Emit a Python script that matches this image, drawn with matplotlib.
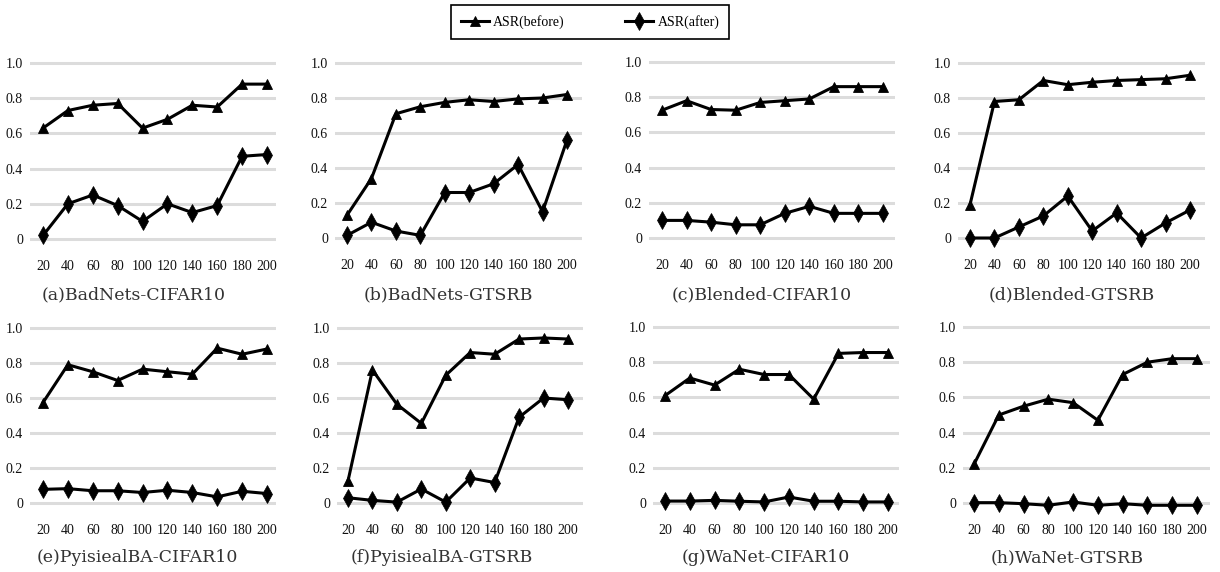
import matplotlib
matplotlib.use("Agg")
import matplotlib.pyplot as plt
from matplotlib.lines import Line2D

epochs = ["20", "40", "60", "80", "100", "120", "140", "160", "180", "200"]
ytick_vals = [0, 0.2, 0.4, 0.6, 0.8, 1.0]
ytick_labels = ["0", "0.2", "0.4", "0.6", "0.8", "1.0"]

titles = ["(a)BadNets-CIFAR10", "(b)BadNets-GTSRB", "(c)Blended-CIFAR10", "(d)Blended-GTSRB",
          "(e)PyisiealBA-CIFAR10", "(f)PyisiealBA-GTSRB", "(g)WaNet-CIFAR10", "(h)WaNet-GTSRB"]

before_a = [0.63, 0.73, 0.76, 0.77, 0.63, 0.68, 0.76, 0.75, 0.88, 0.88]
after_a = [0.02, 0.20, 0.25, 0.19, 0.10, 0.20, 0.15, 0.19, 0.47, 0.48]
before_b = [0.13, 0.34, 0.71, 0.75, 0.775, 0.79, 0.78, 0.795, 0.80, 0.82]
after_b = [0.015, 0.09, 0.04, 0.015, 0.26, 0.26, 0.31, 0.42, 0.15, 0.56]
before_c = [0.726, 0.78, 0.73, 0.726, 0.77, 0.78, 0.79, 0.86, 0.86, 0.86]
after_c = [0.10, 0.10, 0.09, 0.075, 0.075, 0.14, 0.18, 0.14, 0.14, 0.14]
before_d = [0.19, 0.78, 0.79, 0.90, 0.876, 0.89, 0.90, 0.905, 0.91, 0.93]
after_d = [0.0, 0.0, 0.063, 0.126, 0.24, 0.04, 0.143, 0.0, 0.086, 0.16]
before_e = [0.574, 0.79, 0.75, 0.70, 0.765, 0.75, 0.736, 0.885, 0.85, 0.88]
after_e = [0.078, 0.082, 0.07, 0.07, 0.06, 0.073, 0.06, 0.035, 0.067, 0.054]
before_f = [0.126, 0.76, 0.564, 0.455, 0.73, 0.86, 0.85, 0.937, 0.943, 0.937]
after_f = [0.03, 0.015, 0.005, 0.08, 0.005, 0.143, 0.117, 0.49, 0.60, 0.59]
before_g = [0.61, 0.71, 0.67, 0.76, 0.73, 0.73, 0.59, 0.85, 0.855, 0.855]
after_g = [0.011, 0.011, 0.015, 0.01, 0.006, 0.034, 0.01, 0.01, 0.006, 0.006]
before_h = [0.22, 0.50, 0.55, 0.59, 0.57, 0.47, 0.73, 0.80, 0.82, 0.82]
after_h = [0.002, 0.002, -0.004, -0.013, 0.006, -0.013, -0.004, -0.013, -0.013, -0.013]

befores = [before_a, before_b, before_c, before_d, before_e, before_f, before_g, before_h]
afters = [after_a, after_b, after_c, after_d, after_e, after_f, after_g, after_h]

# layout in pixels: grid left, grid right, y of 1.0, y of 0, x of first tick, x of last tick
layout = [
    (30, 276, 63, 239, 43, 267),
    (335, 582, 63, 238, 347, 567),
    (649, 895, 62, 238, 662, 883),
    (958, 1205, 63, 238, 970, 1190),
    (30, 276, 328, 503, 43, 267),
    (337, 583, 328, 503, 348, 568),
    (653, 899, 327, 503, 665, 888),
    (963, 1210, 327, 503, 974, 1197),
]
caption_pos = [(134, 295), (448, 295), (762, 295), (1072, 295),
               (137, 558), (442, 558), (766, 558), (1067, 558)]

W, H = 1220, 572
fig = plt.figure(figsize=(W / 100, H / 100), dpi=100)
fig.patch.set_facecolor("white")

ylo, yhi = -0.08, 1.05
tick_font = "Liberation Serif"
cap_font = "DejaVu Serif"

for i in range(8):
    x0, x1, yt, yb, xa, xb = layout[i]
    ppu = yb - yt
    bot = yb - ylo * ppu
    top = yb - yhi * ppu
    ax = fig.add_axes([x0 / W, 1 - bot / H, (x1 - x0) / W, (bot - top) / H])
    s = (xb - xa) / 9
    ax.set_xlim(-(xa - x0) / s, 9 + (x1 - xb) / s)
    ax.set_ylim(ylo, yhi)
    xs = list(range(len(epochs)))
    ax.plot(xs, befores[i], color="black", lw=2.2, marker="^", markersize=7.5,
            markeredgewidth=0.6, clip_on=False, zorder=3)
    ax.plot(xs, afters[i], color="black", lw=2.2, marker="d", markersize=9,
            markeredgewidth=0.5, clip_on=False, zorder=3)
    ax.set_yticks(ytick_vals)
    ax.set_yticklabels(ytick_labels, fontfamily=tick_font, fontsize=10)
    ax.set_xticks(xs)
    ax.set_xticklabels(epochs, fontfamily=tick_font, fontsize=10)
    ax.tick_params(axis="both", length=0, labelcolor="#111111")
    ax.tick_params(axis="y", pad=5)
    ax.tick_params(axis="x", pad=5)
    ax.yaxis.grid(True, color="#dcdcdc", lw=2.2)
    ax.set_axisbelow(True)
    for sp in ax.spines.values():
        sp.set_visible(False)
    ax.set_facecolor("none")
    cx, cy = caption_pos[i]
    fig.text(cx / W, 1 - cy / H, titles[i], ha="center", va="center",
             fontfamily=cap_font, fontsize=12.5, color="#333333")

handles = [
    Line2D([], [], color="black", lw=2.2, marker="^", markersize=7.5, markeredgewidth=0.6),
    Line2D([], [], color="black", lw=2.2, marker="d", markersize=9, markeredgewidth=0.5),
]
leg = fig.legend(handles, ["ASR(before)", "ASR(after)"], loc="center",
                 bbox_to_anchor=(590 / W, 1 - 22 / H), ncol=2, frameon=True,
                 fancybox=False, edgecolor="black", framealpha=1,
                 prop={"family": tick_font, "size": 10}, handlelength=2.0,
                 columnspacing=4.4, borderpad=0.7, borderaxespad=0,
                 handletextpad=0.3)
leg.get_frame().set_linewidth(1.2)
for h in leg.legend_handles:
    pass

fig.savefig("out.png", dpi=100, facecolor="white")
